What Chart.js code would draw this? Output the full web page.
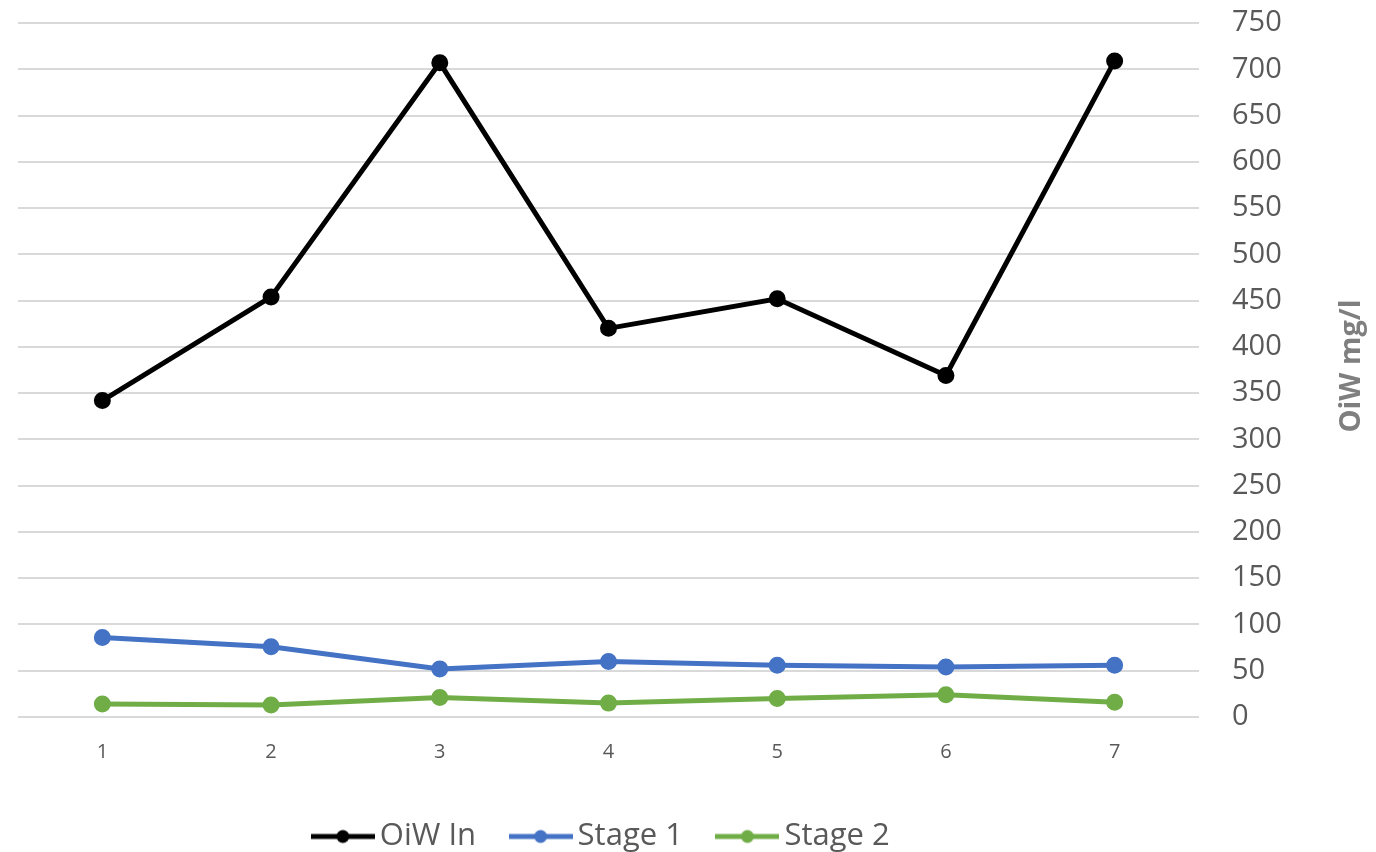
<!DOCTYPE html>
<html><head><meta charset="utf-8">
<script src="https://cdn.jsdelivr.net/npm/chart.js@4"></script>
<style>html,body{margin:0;padding:0;background:#fff}#c{display:block}</style>
</head><body>
<div style="width:1376px;height:852px"><canvas id="c" width="1376" height="852"></canvas></div>
<script>
const categories = ['1','2','3','4','5','6','7'];
const oiwIn = [342, 454, 707, 420, 452, 369, 709];
const stage1 = [86, 76, 52, 60, 56, 54, 56];
const stage2 = [14, 13, 21, 15, 20, 24, 16];
const yTicks = [0,50,100,150,200,250,300,350,400,450,500,550,600,650,700,750];
const seriesNames = ['OiW In','Stage 1','Stage 2'];
const seriesColors = ['#000000','#4472C4','#70AD47'];

function legendIcon(color){
  const c = document.createElement('canvas');
  c.width = 64; c.height = 16;
  const g = c.getContext('2d');
  g.strokeStyle = color; g.lineWidth = 5;
  g.beginPath(); g.moveTo(0,8); g.lineTo(64,8); g.stroke();
  g.fillStyle = color; g.beginPath(); g.arc(32,8,6.5,0,Math.PI*2); g.fill();
  return c;
}
const icons = seriesColors.map(legendIcon);

const layoutPlugin = {
  id:'legendShift',
  afterLayout(chart){
    const lg = chart.legend, a = chart.chartArea;
    if (!lg) return;
    lg.left = a.left; lg.right = a.right - 6; lg.width = lg.right - lg.left;
    lg.top -= 9; lg.bottom -= 9;
  }
};

const titlePlugin = {
  id:'yTitle',
  afterDraw(chart){
    const ctx = chart.ctx, a = chart.chartArea;
    ctx.save();
    ctx.translate(1352, (a.top+a.bottom)/2 - 4);
    ctx.rotate(-Math.PI/2);
    ctx.font = 'bold 29px "Open Sans"';
    ctx.fillStyle = '#7f7f7f';
    ctx.textAlign = 'center'; ctx.textBaseline = 'middle';
    ctx.fillText('OiW mg/l', 0, 0);
    ctx.restore();
  }
};

const mk = (i, data) => ({
  label: seriesNames[i], data, borderColor: seriesColors[i], backgroundColor: seriesColors[i],
  borderWidth: 5, pointRadius: 6, pointHoverRadius: 6, tension: 0
});

new Chart(document.getElementById('c'), {
  type: 'line',
  data: { labels: categories, datasets: [mk(0, oiwIn), mk(1, stage1), mk(2, stage2)] },
  options: {
    responsive: false, animation: false,
    layout: { padding: { left: 18, top: 23, right: 0, bottom: -19 } },
    plugins: {
      tooltip: { enabled: false },
      legend: {
        position: 'bottom',
        labels: {
          usePointStyle: true, pointStyleWidth: 43, boxHeight: 16,
          font: { family: '"Open Sans"', size: 31 }, color: '#595959', padding: 43,
          generateLabels(chart){
            return chart.data.datasets.map((d,i)=>({
              text: d.label, pointStyle: icons[i], fillStyle: d.borderColor, strokeStyle: d.borderColor,
              lineWidth: 0, hidden: false, datasetIndex: i, fontColor: '#595959'
            }));
          }
        }
      }
    },
    scales: {
      x: {
        offset: true,
        grid: { display: false, drawTicks: false },
        border: { display: false },
        ticks: { color: '#595959', font: { family: '"Open Sans"', size: 20 }, padding: 23 }
      },
      y: {
        position: 'right', min: 0, max: 750,
        afterBuildTicks(s){ s.ticks = yTicks.map(v=>({value:v})); },
        afterFit(s){ s.width = 177; s.paddingTop = 0; s.paddingBottom = 0; },
        grid: { color: '#d9d9d9', lineWidth: 2, drawTicks: false },
        border: { display: false },
        ticks: { color: '#595959', font: { family: '"Open Sans"', size: 29 }, padding: 33 }
      }
    }
  },
  plugins: [layoutPlugin, titlePlugin]
});
</script>
</body></html>
